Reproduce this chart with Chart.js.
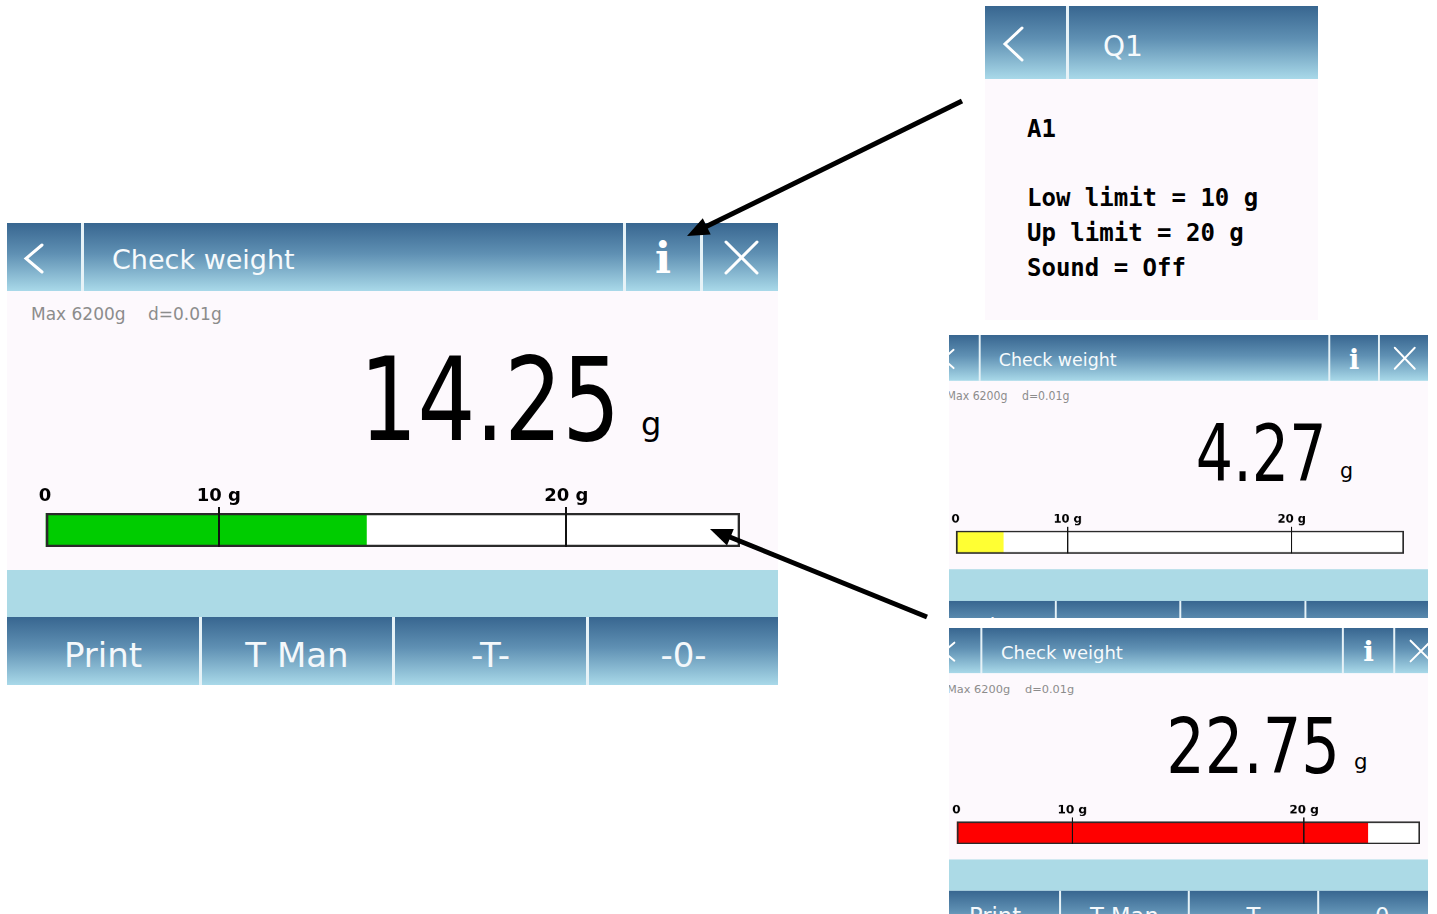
<!DOCTYPE html>
<html>
<head>
<meta charset="utf-8">
<script src="https://cdn.jsdelivr.net/npm/chart.js@4.4.1/dist/chart.umd.min.js"></script>
<style>
  body { margin: 0; width: 1437px; height: 914px; background: #fff; position: relative; overflow: hidden; font-family: 'DejaVu Sans', sans-serif; }
  .screen { position: absolute; width: 771px; height: 462px; }
  .screen > *, .info-panel > * { position: absolute; }
  .hdr { left: 0; top: 0; width: 771px; height: 68px; background: linear-gradient(#386690, #5f90b3 45%, #a9d9e9); }
  .sep { top: 0; width: 3px; height: 100%; background: #e6f2f7; }
  .icons { left: 0; top: 0; }
  .icons polyline, .icons line { stroke: #fff; stroke-width: 3; fill: none; stroke-linecap: round; }
  .title { left: 105px; top: 23px; font-size: 27px; line-height: 27px; color: #f6fafc; white-space: nowrap; }
  .info { left: 619px; width: 74px; top: 15px; font: bold 42px/42px 'DejaVu Serif', serif; color: #fff; text-align: center; }
  .body { left: 0; top: 68px; width: 771px; height: 279px; background: #fdf9fd; }
  .spec { top: 83px; font-size: 17px; line-height: 17px; color: #8c8c8c; white-space: nowrap; }
  .reading { right: 158px; top: 120px; font: 115px/115px 'DejaVu Sans Condensed', 'DejaVu Sans', sans-serif; color: #000; transform: scaleX(0.88); transform-origin: 100% 0; white-space: nowrap; text-align: right; }
  .unit { left: 634px; top: 185px; font-size: 32px; line-height: 32px; color: #000; }
  .bar { left: 0; top: 250px; width: 771px; height: 78px; }
  .band { left: 0; top: 347px; width: 771px; height: 47px; background: #acdae6; }
  .btns { left: 0; top: 394px; width: 771px; height: 68px; background: linear-gradient(#386690, #5f90b3 45%, #a9d9e9); }
  .btn { position: absolute; top: 21px; font-size: 34px; line-height: 34px; color: #f4f8fb; text-align: center; white-space: nowrap; }
  .clip { position: absolute; overflow: hidden; }
  .info-panel { position: absolute; left: 985px; top: 6px; width: 333px; height: 314px; background: #fdf9fd; }
  .info-panel .hdr { width: 333px; height: 73px; }
  .info-text { left: 42px; font: bold 24px/24px 'DejaVu Sans Mono', monospace; color: #000; white-space: pre; }
  #arrows { position: absolute; left: 0; top: 0; }
</style>
</head>
<body>
<script>
// check weighing setup
const lowLimit = 10;
const upLimit = 20;
const scaleEnd = 25;
const readings = [14.25, 4.27, 22.75];
const readingColors = ['#00cc00', '#ffff33', '#ff0000'];
const tickWeights = [0, 10, 20];
const tickLabels = ['0', '10 g', '20 g'];
const screenTitle = 'Check weight';
const specText = ['Max 6200g', 'd=0.01g'];
const buttonLabels = ['Print', 'T Man', '-T-', '-0-'];
const infoTitle = 'Q1';
const infoLines = ['A1', '', 'Low limit = 10 g', 'Up limit = 20 g', 'Sound = Off'];

// bar is split: 0..low = 1 unit, low..up = 2 units, up..end = 1 unit
const toAxis = (w) => {
    if (w <= lowLimit) return w / lowLimit;
    if (w <= upLimit) return 1 + 2 * (w - lowLimit) / (upLimit - lowLimit);
    return 3 + (w - upLimit) / (scaleEnd - upLimit);
};

const buildScreen = (host, reading, colour) => {
    const cells = [[0, 192], [195, 385], [388, 579], [582, 771]];
    host.innerHTML = `
        <div class="hdr"></div>
        <svg class="icons" width="771" height="68">
            <polyline points="35,22 19,35.5 35,49"/>
            <line x1="719" y1="19" x2="750" y2="50"/><line x1="750" y1="19" x2="719" y2="50"/>
        </svg>
        <div class="sep" style="left:74px;height:68px"></div>
        <div class="sep" style="left:616px;height:68px"></div>
        <div class="sep" style="left:693px;height:68px"></div>
        <div class="title">${screenTitle}</div>
        <div class="info">i</div>
        <div class="body"></div>
        <span class="spec" style="left:24px">${specText[0]}</span>
        <span class="spec" style="left:141px">${specText[1]}</span>
        <div class="reading">${reading.toFixed(2)}</div>
        <div class="unit">g</div>
        <div class="bar"><canvas></canvas></div>
        <div class="band"></div>
        <div class="btns">
            ${cells.slice(1).map(c => `<div style="position:absolute;left:${c[0] - 3}px;top:0;width:3px;height:68px;background:#e6f2f7"></div>`).join('')}
            ${buttonLabels.map((b, i) => `<div class="btn" style="left:${cells[i][0]}px;width:${cells[i][1] - cells[i][0]}px">${b}</div>`).join('')}
        </div>`;

    new Chart(host.querySelector('canvas'), {
        type: 'bar',
        data: {
            labels: ['weight'],
            datasets: [
                { data: [toAxis(scaleEnd)], backgroundColor: '#ffffff', order: 3 },
                { data: [toAxis(reading)], backgroundColor: colour, order: 2 },
                { data: [toAxis(scaleEnd)], backgroundColor: 'rgba(0,0,0,0)', borderColor: '#2a2a2a', borderWidth: 2, borderSkipped: false, order: 1 }
            ]
        },
        options: {
            indexAxis: 'y',
            animation: false,
            responsive: true,
            maintainAspectRatio: false,
            datasets: { bar: { grouped: false, categoryPercentage: 1, barPercentage: 1 } },
            layout: { padding: { top: 6, bottom: 4, left: 38, right: 38 } },
            plugins: { legend: { display: false }, tooltip: { enabled: false } },
            scales: {
                y: { display: false },
                x: {
                    position: 'top',
                    min: 0,
                    max: toAxis(scaleEnd),
                    afterBuildTicks: (s) => { s.ticks = tickWeights.map(w => ({ value: toAxis(w) })); },
                    afterFit: (s) => { s.height = 34; },
                    ticks: {
                        autoSkip: false, maxRotation: 0, padding: 0, color: '#000',
                        font: { family: 'DejaVu Sans', weight: 'bold', size: 18 },
                        callback: (v, i) => tickLabels[i]
                    },
                    grid: {
                        z: 1, lineWidth: 2, tickLength: 6,
                        color: (ctx) => (ctx.tick && ctx.tick.value > 0 ? '#111' : 'rgba(0,0,0,0)')
                    },
                    border: { display: false }
                }
            }
        }
    });
};

// main screen
const main = document.createElement('div');
main.className = 'screen';
main.style.left = '7px';
main.style.top = '223px';
document.body.appendChild(main);
buildScreen(main, readings[0], readingColors[0]);

// two smaller, cropped copies on the right
[[335, 283, 0.645, 0.675], [628, 286, 0.667, 0.667]].forEach(([top, h, sx, sy], i) => {
    const clip = document.createElement('div');
    clip.className = 'clip';
    clip.style.cssText = `left:949px;top:${top}px;width:479px;height:${h}px`;
    const scr = document.createElement('div');
    scr.className = 'screen';
    scr.style.cssText = `left:-18px;top:0;transform:scale(${sx},${sy});transform-origin:0 0`;
    clip.appendChild(scr);
    document.body.appendChild(clip);
    buildScreen(scr, readings[i + 1], readingColors[i + 1]);
});

// info popup
const info = document.createElement('div');
info.className = 'info-panel';
info.innerHTML = `
    <div class="hdr"></div>
    <svg class="icons" width="333" height="73">
        <polyline points="37,22 20,38 37,54"/>
    </svg>
    <div class="sep" style="left:81px;height:73px"></div>
    <div class="title" style="left:118px;top:27px;font-size:28px;line-height:28px">${infoTitle}</div>
    ${infoLines.map((t, i) => `<div class="info-text" style="top:${111 + i * 34.7}px">${t}</div>`).join('')}`;
document.body.appendChild(info);

// arrows
const arrows = [[[962, 101], [687, 236]], [[927, 617], [710, 529]]];
const ns = 'http://www.w3.org/2000/svg';
const svg = document.createElementNS(ns, 'svg');
svg.id = 'arrows';
svg.setAttribute('width', 1437);
svg.setAttribute('height', 914);
arrows.forEach(([a, b]) => {
    const dx = b[0] - a[0], dy = b[1] - a[1];
    const len = Math.hypot(dx, dy);
    const ux = dx / len, uy = dy / len;
    const bx = b[0] - ux * 22, by = b[1] - uy * 22;
    const line = document.createElementNS(ns, 'line');
    line.setAttribute('x1', a[0]); line.setAttribute('y1', a[1]);
    line.setAttribute('x2', bx + ux * 4); line.setAttribute('y2', by + uy * 4);
    line.setAttribute('stroke', '#000'); line.setAttribute('stroke-width', 5);
    svg.appendChild(line);
    const head = document.createElementNS(ns, 'polygon');
    head.setAttribute('points', `${b[0]},${b[1]} ${bx - uy * 9},${by + ux * 9} ${bx + uy * 9},${by - ux * 9}`);
    head.setAttribute('fill', '#000');
    svg.appendChild(head);
});
document.body.appendChild(svg);
</script>
</body>
</html>
